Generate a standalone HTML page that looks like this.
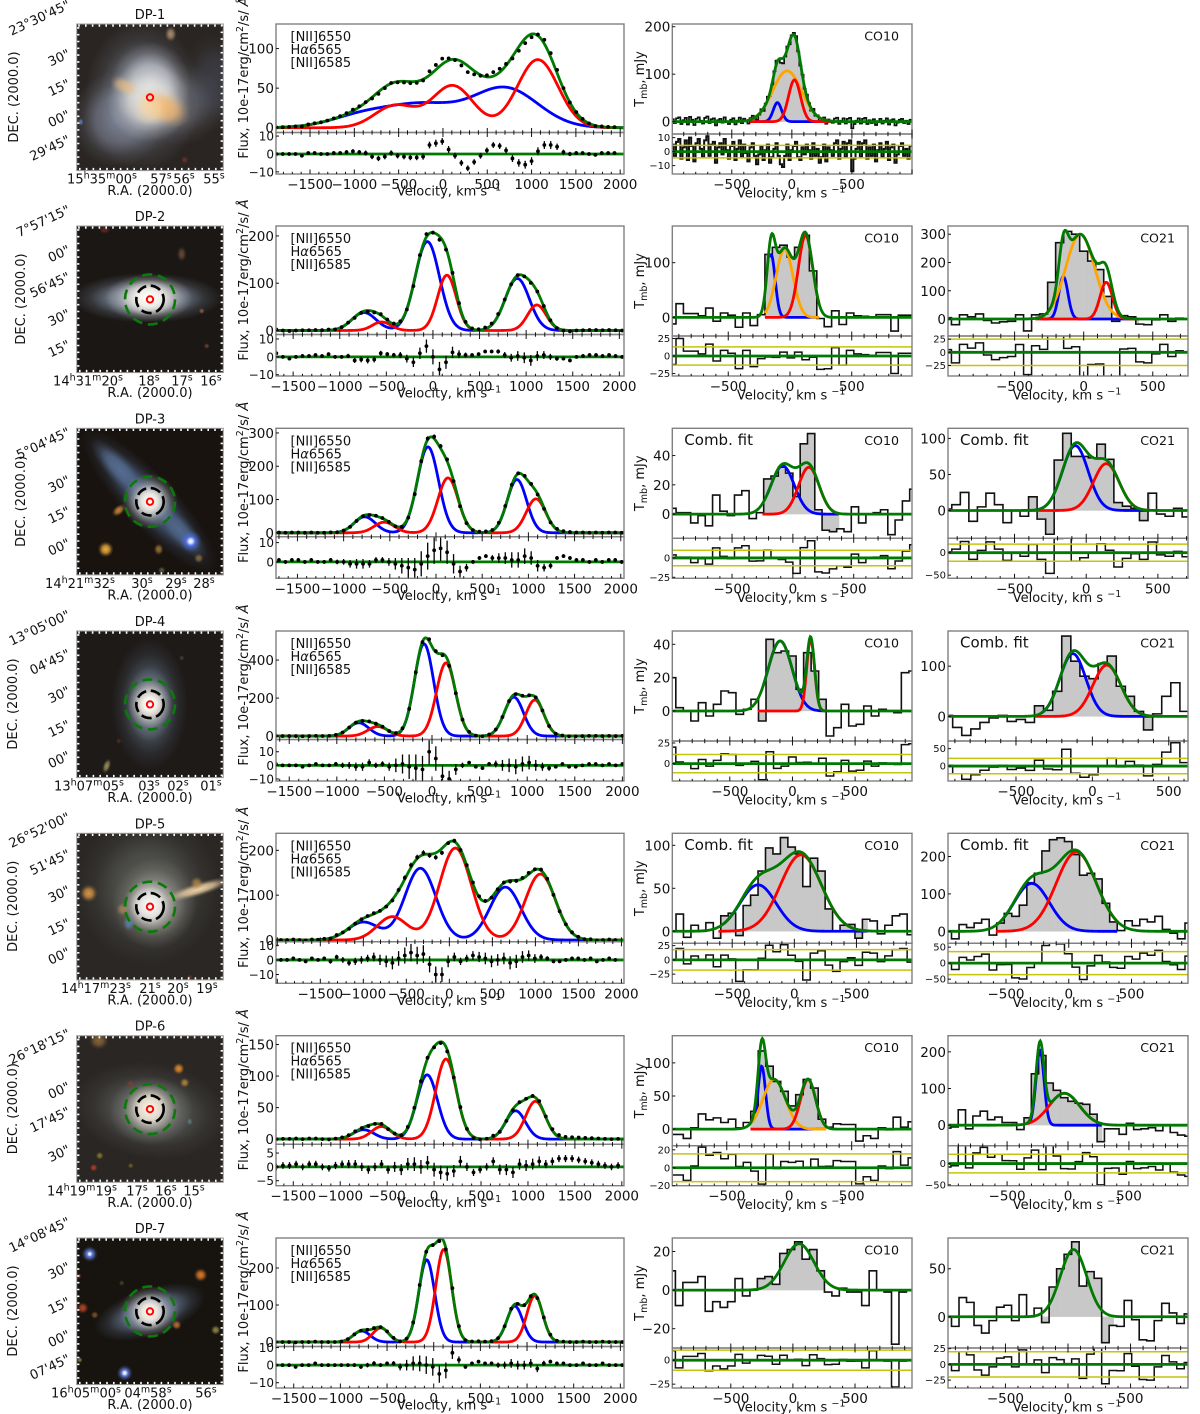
<!DOCTYPE html>
<html lang="en">
<head>
<meta charset="utf-8">
<title>DP galaxies: optical images, H-alpha and CO spectra</title>
<style>
html,body{margin:0;padding:0;background:#fff}
svg{display:block}
text{font-family:"DejaVu Sans","Liberation Sans",sans-serif;fill:#111}
</style>
</head>
<body>
<svg id="fig" xmlns="http://www.w3.org/2000/svg" width="1200" height="1414" viewBox="0 0 1200 1414"><defs id="defs"></defs></svg>
<script>
/* ---------- labels ---------- */
const galaxyNames = ["DP-1","DP-2","DP-3","DP-4","DP-5","DP-6","DP-7"];
const raLabels = [
 [["15^h35^m00^s",102],["57^s",161],["56^s",184],["55^s",214]],
 [["14^h31^m20^s",88],["18^s",149],["17^s",182],["16^s",211]],
 [["14^h21^m32^s",80],["30^s",142],["29^s",176],["28^s",204]],
 [["13^h07^m05^s",89],["03^s",149],["02^s",178],["01^s",211]],
 [["14^h17^m23^s",96],["21^s",150],["20^s",178],["19^s",207]],
 [["14^h19^m19^s",82],["17^s",137],["16^s",166],["15^s",194]],
 [["16^h05^m00^s",86],["04^m58^s",148],["56^s",206]]
];
const decLabels = [
 [["23°30'45\"",-16],["30\"",33],["15\"",63],["00\"",94],["29'45\"",119]],
 [["7°57'15\"",-13],["00\"",27],["56'45\"",54],["30\"",91],["15\"",122]],
 [["5°04'45\"",7],["30\"",55],["15\"",86],["00\"",118]],
 [["13°05'00\"",-13],["04'45\"",26],["30\"",63],["15\"",97],["00\"",128]],
 [["26°52'00\"",-13],["51'45\"",24],["30\"",60],["15\"",93],["00\"",122]],
 [["26°18'15\"",1],["00\"",54],["17'45\"",79],["30\"",117]],
 [["14°08'45\"",-13],["30\"",32],["15\"",67],["00\"",100],["07'45\"",124]]
];
const decLabelX = [13,20,20,12,12,12,12];

/* ---------- Halpha + [NII] spectra ---------- */
const specXLim = [[-1884,2043],[-1684,2050],[-1732,2035],[-1639,2017],[-2015,2030],[-1684,2023],[-1690,2039]];
const specYLim = [[-6,131],[-8.5,221],[-12,314],[-18,553],[-4,238],[-8,164],[-12,281]];
const specRLim = [[-11.2,12],[-10.7,12.5],[-8.5,13],[-11.5,19],[-16,12.4],[-6.8,8.2],[-13,10.6]];
const specYTicks = [[0,50,100],[0,100,200],[0,100,200,300],[0,200,400],[0,100,200],[0,50,100,150],[0,100,200]];
const specRTicks = [[-10,0,10],[-10,0,10],[0,10],[-10,0,10],[-10,0,10],[-5,0,5],[-10,0,10]];
const specXTicks = [-1500,-1000,-500,0,500,1000,1500,2000];
const specDotStart = [-1880,-1680,-1700,-1640,-2030,-1680,-1690];
const specDotStep = [72,70,70,70,72,70,70];

/* gaussian components [amplitude, centre km/s, sigma km/s] */
const blueComp = [
 [[17,-870,370],[26,-200,370],[50,700,370]],
 [[38,-740,130],[188,-60,130],[110,905,130]],
 [[48,-772,115],[258,-87,115],[160,876,105]],
 [[70,-770,105],[485,-84,100],[205,860,100]],
 [[40,-1000,180],[160,-337,180],[118,651,180]],
 [[15,-752,110],[102,-74,110],[45,868,105]],
 [[30,-772,90],[222,-75,85],[97,869,85]]
];
const redComp = [
 [[28,-540,230],[53,110,230],[86,1070,230]],
 [[18,-550,100],[117,150,100],[54,1115,100]],
 [[32,-560,110],[165,130,110],[102,1082,105]],
 [[50,-570,105],[385,147,100],[190,1080,95]],
 [[52,-663,175],[205,70,185],[147,1058,175]],
 [[20,-561,105],[127,127,110],[60,1080,105]],
 [[38,-568,85],[250,107,85],[125,1083,85]]
];
const specResidual = [
 [0,0,0,0,-1,.5,.5,0,0,.5,.5,1,1.5,1,.5,-1.5,-2.5,-1.5,.5,-1,-1.5,-2,-2,-1.5,5,6,7,2.5,-1,-5,-8,-4.5,-1,2,5,4.5,2,-2.5,-5,-6,-4,1.5,5,5,4,1,0,.5,.5,0,-.5,.5,.5,.5],
 [2,0,-1,0,.5,.5,1,.5,1.5,0,0,.5,-2,-1.5,-2,-1.5,2,1.5,1,1,-1,-3,2,6,0,-7,-3,2.5,1.5,1,1,1.5,3,3,3,1,-.5,.5,-.5,-2,.5,1,0,-1,-1,-2,0,.5,1,1,.5,1,.5,0],
 [1,0,1,1,0,1,0,0,1,0,0,-1,-1,-1,-1,1,1,0,-1,-2,-3,-4,-1,3,6,7,5,-1,-5,-3,0,2,3,2,2,2,1,1,3,2,-2,-3,-2,2,3,2,1,1,0,1,0,1,1,0],
 [1,0,0,0,-1,0,1,0,0,1,0,0,-1,-1,2,0,1,-1,0,1,-1,-2,-3,10,5,-8,-10,-3,0,2,-1,-2,1,1,0,0,-1,1,2,0,-1,-2,-1,1,-1,-1,0,1,1,0,1,0,1,0],
 [1,0,0,1,0,-1,1,0,1,-1,2,0,-2,-1,0,1,2,0,-1,-2,1,3,5,3,4,-3,-10,-10,-1,2,-1,1,3,2,1,-1,0,1,-2,-1,2,3,1,2,1,-1,-1,0,1,1,0,1,-1,0,1,0],
 [0,.5,.5,1,0,1,1,0,-.5,.5,1,1,1,0,-1,0,1,-1,0,-1,1,1,0,1.5,-1,-2,-2.5,-1.5,2,0,-2,-1,0,2,-1,-1,-2,1,.5,1,2,1,2,3,3,3,2.5,2,1.5,1,.5,0,.5,0],
 [0,0,0,-1,0,0,1,0,0,0,0,0,0,-1,0,1,0,1,1,-1,0,1,1,0,-1,-5,-3,7,3,-1,1,2,1,1,0,0,1,0,0,1,-2,1,2,1,1,0,0,1,0,0,1,0,0,0]
];
const specError = [
 [.9,.9,.9,.9,.9,.9,.9,.9,.9,1,1,1.1,1.2,1.2,1.4,1.4,1.5,1.5,1.5,1.5,1.5,1.5,1.5,1.7,1.9,2,1.9,1.9,1.7,1.7,1.6,1.6,1.6,1.6,1.6,1.7,1.8,2,2.1,2.2,2.2,2.2,2.2,2.2,1.8,1.4,1.2,1,.9,.9,.9,.9,.9,.9],
 [1,1,1,1,1,1,1,1,1,1,1,1.2,1.4,1.6,1.7,1.6,1.4,1.2,1.2,1.7,2.2,2.7,3.2,3.7,4.2,4.2,3.7,3.2,2.2,1.4,1,1,1,1,1.2,1.7,2.2,2.7,3,3,2.7,2.2,1.7,1.2,1,1,1,1,1,1,1,1,1,1],
 [1,1,1,1,1,1,1,1,1,1.2,1.5,2,2.5,2.5,2,1.5,1.5,2,3,4,5,6,6.5,7,7,6.5,6,5,3,2,1,1,1,1.5,2.5,3,4,4,4,3.5,3,2,1.5,1,1,1,1,1,1,1,1,1,1,1],
 [1.2,1.2,1.2,1.2,1.2,1.2,1.2,1.2,1.2,1.5,2,2.5,3,3,2.5,2,2,3,5,7,9,10,10,9.5,9,8,6,4,2,1.2,1.2,1.2,1.5,2.5,4,5,5.5,5.5,5,4,3,2,1.2,1.2,1.2,1.2,1.2,1.2,1.2,1.2,1.2,1.2,1.2,1.2],
 [1.2,1.2,1.2,1.2,1.2,1.2,1.2,1.2,1.2,1.5,1.5,2,2,2.5,2.5,2.5,3,3.5,4,4.5,5,5.5,6,6,6,5.5,5.5,5,4,3,2.5,2.5,3,3.5,4,4,4,4,4.5,4.5,4,3.5,3,2,1.5,1.2,1.2,1.2,1.2,1.2,1.2,1.2,1.2,1.2,1.2,1.2],
 [1.2,1.2,1.2,1.2,1.2,1.2,1.2,1.2,1.2,1.3,1.3,1.5,1.5,1.5,1.5,1.5,1.5,1.5,1.8,2,2.2,2.5,2.5,2.5,2.5,2.5,2.5,2.2,2,1.5,1.3,1.3,1.3,1.5,1.8,2,2,2,2,2,1.8,1.5,1.4,1.3,1.3,1.3,1.2,1.2,1.2,1.2,1.2,1.2,1.2,1.2],
 [1,1,1,1,1,1,1,1,1,1,1,1,1.1,1.1,1.3,1.3,1.1,1.1,1.3,2,3,4,4.5,5,5,5,4.5,3.5,2,1.1,1,1,1,1.1,1.5,2,2.5,2.5,2.5,2.5,2,1.5,1.1,1,1,1,1,1,1,1,1,1,1,1]
];

/* ---------- CO spectra: measured flux per channel ---------- */
const dp1Co10Noise = [5,-3,7,9,-5,3,8,-6,10,4,-7,6,9,2,-4,8,11,-3,5,7,-8,3,6,-2,9,1,-5,4,7,-6,2,8,-4,5,-1,-7,3,6,-3,-9,-2,4,-6,1,5,-8,-4,2,6,-3,-9,-11,-3,5,-6,1,4,7,-4,-6,3,-2,5,1,-5,6,-3,2,-8,-4,5,-7,3,1,-3,6,8,-5,2,7,-4,6,8,-14,-5,2,7,-4,6,8,-5,3,-3,5,-7,1,6,-4,2,7,-6,3,5,-8,-2,4,6,-3,2,-5,4];
const dp2Co10Values = [-12,25,7,7,3,17,-7,8,4,-18,8,-15,5,115,128,132,110,128,150,85,-2,-17,12,-13,8,3,2,1,5,5,-25,4,4];
const dp2Co21Values = [5,-20,15,8,18,-5,-14,-10,-8,15,-42,15,18,130,270,310,300,240,205,175,80,-8,12,8,-18,-20,-3,15,-8,3];
const dp3Co10Values = [4,1,1,-6,-1,-8,13,2,-1,13,16,-3,1,24,26,32,28,12,48,55,3,-11,-12,-10,-12,5,-6,0,1,3,-14,-4,9,17];
const dp3Co21Values = [2,8,25,-15,5,24,8,-17,0,-8,19,-12,-33,70,107,75,75,73,92,71,11,6,3,-14,24,-5,-8,3,-9];
const dp4Co10Values = [20,2,0,-6,5,-3,4,12,11,-2,1,7,-6,43,35,36,33,13,35,24,7,-15,-10,4,-9,-8,3,-3,1,0,-1,23,24];
const dp4Co21Values = [2,-22,-38,-25,-12,-3,2,-10,-6,-12,21,12,50,160,110,80,75,105,120,60,40,10,-27,5,40,67,10];
const dp5Co10Values = [0,20,-7,7,0,10,-8,18,21,-5,30,42,70,97,90,109,98,90,52,85,70,26,0,7,8,-8,14,12,-3,7,18,20,-4];
const dp5Co21Values = [0,-20,18,10,22,32,-10,22,48,40,70,130,155,215,245,250,240,205,150,155,140,75,25,2,28,15,32,25,40,5,-5,-20,22];
const dp6Co10Values = [-8,-8,-14,2,23,14,17,10,15,2,10,27,118,95,72,57,35,52,75,62,15,3,8,7,7,-18,-10,-14,2,-1,18,3,11];
const dp6Co21Values = [-8,-5,42,-10,25,38,15,22,7,7,-12,20,140,190,115,95,75,65,60,57,30,-45,-10,-10,-25,5,-12,-10,-7,-15,0,-20,-27,-30];
const dp7Co10Values = [10,-8,4,4,7,-11,-6,-9,-6,6,-3,0,6,7,3,19,21,25,16,21,10,-1,-3,1,-1,-1,-8,10,0,-1,-28,-1,0];
const dp7Co21Values = [0,-10,20,15,-9,-17,-4,10,12,-4,23,0,9,-6,31,50,65,78,32,47,40,-27,-9,-10,17,-3,-24,-25,-4,14,4,-7,3];

const coPanels = [
 {row:0,col:0,line:"CO10",comb:false,xLim:[-995,1000],yLim:[-26,205.7],rLim:[-16,12.6],yTicks:[0,100,200],rTicks:[-10,0,10],noise:dp1Co10Noise,start:-1000,width:18,fill:[-350,330],sigmaLine:4.5,blue:[[40,-120,35]],orange:[[107,-40,120]],red:[[88,22,50]]},
 {row:1,col:0,line:"CO10",comb:false,xLim:[-953,988],yLim:[-34,167],rLim:[-28.5,28.6],yTicks:[0,100],rTicks:[-25,0,25],values:dp2Co10Values,start:-983,width:60,fill:[-203,237],sigmaLine:13,blue:[[115,-153,33]],orange:[[125,-44,68]],red:[[150,126,58]]},
 {row:1,col:1,line:"CO21",comb:false,xLim:[-982,755],yLim:[-60,329],rLim:[-45,31],yTicks:[0,100,200,300],rTicks:[-25,0,25],values:dp2Co21Values,start:-1015,width:58,fill:[-350,400],sigmaLine:25,blue:[[150,-147,33]],orange:[[300,-25,105]],red:[[130,163,45]]},
 {row:2,col:0,line:"CO10",comb:true,xLim:[-991,979],yLim:[-16.5,58.6],rLim:[-26.3,25.4],yTicks:[0,20,40],rTicks:[-25,0],values:dp3Co10Values,start:-1020,width:60,fill:[-250,380],sigmaLine:10,blue:[[33,-84,95]],orange:[],red:[[32,131,85]]},
 {row:2,col:1,line:"CO21",comb:true,xLim:[-964,710],yLim:[-38.6,114],rLim:[-57,32],yTicks:[0,50,100],rTicks:[-50,0],values:dp3Co21Values,start:-997,width:59.5,fill:[-400,445],sigmaLine:19,blue:[[90,-76,90]],orange:[],red:[[65,140,90]]},
 {row:3,col:0,line:"CO10",comb:false,xLim:[-959,954],yLim:[-18,48],rLim:[-21,27.4],yTicks:[0,20,40],rTicks:[0,25],values:dp4Co10Values,start:-991,width:60,fill:[-275,265],sigmaLine:11,blue:[[42,-98,95]],orange:[],red:[[43,145,31]]},
 {row:3,col:1,line:"CO21",comb:true,xLim:[-945,626],yLim:[-49,170],rLim:[-43,72],yTicks:[0,100],rTicks:[0,50],values:dp4Co21Values,start:-974,width:59.5,fill:[-375,410],sigmaLine:22,blue:[[125,-128,85]],orange:[],red:[[102,95,92]]},
 {row:4,col:0,line:"CO10",comb:true,xLim:[-982,947],yLim:[-14,114],rLim:[-41,29],yTicks:[0,50,100],rTicks:[-25,0,25],values:dp5Co10Values,start:-1012,width:60,fill:[-610,590],sigmaLine:18,blue:[[54,-292,145]],orange:[],red:[[89,53,165]]},
 {row:4,col:1,line:"CO21",comb:true,xLim:[-962,950],yLim:[-32,262],rLim:[-63,62],yTicks:[0,100,200],rTicks:[-50,0,50],values:dp5Co21Values,start:-994,width:60,fill:[-580,390],sigmaLine:36,blue:[[128,-295,140]],orange:[],red:[[212,60,160]]},
 {row:5,col:0,line:"CO10",comb:false,xLim:[-936,983],yLim:[-25,141],rLim:[-20,24.6],yTicks:[0,50,100],rTicks:[-20,0,20],values:dp6Co10Values,start:-968,width:60,fill:[-310,300],sigmaLine:15.5,blue:[[95,-220,30]],orange:[[75,-120,90]],red:[[75,151,60]]},
 {row:5,col:1,line:"CO21",comb:false,xLim:[-985,985],yLim:[-56,244],rLim:[-52,42],yTicks:[0,100,200],rTicks:[-50,0],values:dp6Co21Values,start:-1021,width:60,fill:[-360,280],sigmaLine:22,blue:[[205,-230,33]],orange:[],red:[[87,-30,125]]},
 {row:6,col:0,line:"CO10",comb:false,xLim:[-971,959],yLim:[-30,27],rLim:[-29,12.7],yTicks:[-20,0,20],rTicks:[-25,0],values:dp7Co10Values,start:-1006,width:60,fill:[-290,260],sigmaLine:10.5,blue:[],orange:[],red:[],green:[[24,50,120]]},
 {row:6,col:1,line:"CO21",comb:false,xLim:[-959,959],yLim:[-32.5,82],rLim:[-37.5,26],yTicks:[0,50],rTicks:[-25,0,25],values:dp7Co21Values,start:-991,width:60,fill:[-210,365],sigmaLine:20,blue:[],orange:[],red:[],green:[[70,44,105]]}
];
const coXTicks = [-500,0,500];

/* ---------- galaxy cutouts: background colour and soft light blobs ---------- */
const galaxyBackgrounds = ["#2a2522","#1b1714","#18130f","#1e1a18","#2a2724","#2a2623","#17130f"];
const galaxyBlobs = [
 [[66,72,58,76,0,"#7f8799",.8],[40,96,46,48,0,"#8c94aa",.7],[100,80,48,42,0,"#8b8f9c",.55],[138,58,34,50,0,"#5e6a84",.35],[74,60,40,42,0,"#d0d4dc",.85],[72,78,42,40,0,"#f4f1e8",.8],[88,84,28,18,25,"#f2b368",.9],[48,62,16,9,25,"#f0bd7e",.7],[74,84,18,18,0,"#f7d6a4",.8],[94,10,6,8,0,"#c7a37f",.8],[4,98,3,4,0,"#5f7fc0",.9],[108,136,4,4,0,"#7a3328",.8],[21,148,4,4,0,"#6a5545",.6]],
 [[70,72,76,25,0,"#8fa2bb",.95],[72,72,44,24,0,"#e4ddd2",.95],[72,72,26,18,0,"#fffdf7",1],[28,4,6,4,0,"#7a2a20",.8],[105,28,5,8,0,"#6e4d38",.9],[130,120,3,3,0,"#8a4a30",.8],[125,85,3,3,0,"#c0724a",.7]],
 [[44,42,42,13,47,"#6a86b2",.85],[103,102,38,13,47,"#5e7aa0",.85],[73,73,96,26,47,"#4f678c",.8],[73,73,28,28,0,"#d3d6d4",.9],[73,73,17,17,0,"#fffaf0",1],[114,113,11,11,0,"#4c70ff",1],[114,113,5,5,0,"#ffffff",1],[29,121,8,8,0,"#f0b040",1],[42,82,8,5,-40,"#d9903f",.9],[82,121,5,6,0,"#a57a3c",.9],[122,130,5,5,0,"#9b7a4c",.8],[85,142,4,4,0,"#6b6a50",.8]],
 [[73,73,38,66,0,"#5f7083",.85],[73,73,24,38,0,"#98a0a8",.85],[73,73,22,24,0,"#f7eee0",1],[73,73,12,12,0,"#ffffff",1],[30,135,4,8,20,"#a89960",.9],[42,110,3,3,0,"#6b3325",.7],[105,27,3,3,0,"#3e5448",.7]],
 [[72,56,72,76,0,"#5f615c",.85],[78,70,42,46,0,"#a5a39c",.85],[73,72,26,26,0,"#ffffff",1],[122,56,36,7,-17,"#f1d3a7",1],[12,60,9,9,0,"#e09a48",.95],[120,50,7,7,0,"#b68c4c",.85],[46,76,7,7,0,"#cf9a5a",.6],[52,90,6,8,0,"#5f90c8",.7],[113,144,3,3,0,"#70402c",.8]],
 [[74,75,78,48,8,"#606563",.85],[74,75,42,34,0,"#a09f98",.85],[73,73,25,25,0,"#fff6e6",1],[22,5,10,9,0,"#8f6a3a",.9],[102,33,6,6,0,"#e08c2c",1],[108,47,5,5,0,"#c08a3c",.9],[17,132,4,4,0,"#c0402c",.9],[23,120,4,4,0,"#a08a2c",.8],[54,48,4,4,0,"#8a3d28",.8],[54,130,3,3,0,"#8a7a30",.7],[113,86,3,4,0,"#5f8f90",.7]],
 [[73,74,58,24,-18,"#6f86a6",.95],[73,74,30,26,0,"#c5c4c0",.9],[73,74,18,18,0,"#fff8ee",1],[13,16,8,8,0,"#6a8cff",1],[13,16,3,3,0,"#ffffff",1],[48,135,8,8,0,"#6a8cff",1],[48,135,3.5,3.5,0,"#ffffff",1],[124,37,7,7,0,"#e07a28",1],[6,70,6,6,0,"#c84a28",.9],[100,87,5,5,0,"#c87838",.9],[139,92,5,5,0,"#a09050",.9],[18,77,4,4,0,"#a06030",.8],[45,45,3,3,0,"#506030",.7],[2,38,3,3,0,"#a03828",.8],[3,122,3,3,0,"#a09850",.8]]
];
const galaxyHasApertures = [false,true,true,true,true,true,true];

/* ---------- layout ---------- */
const rowTops = [24,226,428.3,631,833.3,1035.7,1238];
const fig = document.getElementById('fig');
const defs = document.getElementById('defs');
const NS = 'http://www.w3.org/2000/svg';

function el(tag, attrs, name, parent) {
  const e = document.createElementNS(NS, tag);
  for (const k in attrs) e.setAttribute(k, attrs[k]);
  
  
  (parent || fig).appendChild(e);
  return e;
}
function scale(d0, d1, r0, r1) { return v => r0 + (v - d0) / (d1 - d0) * (r1 - r0); }
function gaussSum(list, v) {
  let s = 0;
  for (const g of list) s += g[0] * Math.exp(-((v - g[1]) * (v - g[1])) / (2 * g[2] * g[2]));
  return s;
}
function fmt(n) { return String(n).replace('-', '\u2212'); }
function addMarkup(t, str) {
  /* ^x = one superscript letter */
  const parts = str.split(/(\^[a-z])/);
  let up = false;
  for (const p of parts) {
    if (!p) continue;
    const ts = document.createElementNS(NS, 'tspan');
    if (p[0] === '^') {
      ts.textContent = p.slice(1);
      ts.setAttribute('dy', '-5');
      ts.setAttribute('font-size', '9.5');
      up = true;
    } else {
      ts.textContent = p;
      if (up) ts.setAttribute('dy', '5');
      up = false;
    }
    t.appendChild(ts);
  }
}
function label(x, y, str, size, anchor, name, parent, rot) {
  const attrs = {x: x, y: y, 'font-size': size, 'text-anchor': anchor || 'start'};
  if (rot) attrs.transform = 'rotate(' + rot + ' ' + x + ' ' + y + ')';
  const t = el('text', attrs, name, parent);
  addMarkup(t, str);
  return t;
}
function clip(id, x, y, w, h) {
  const c = document.createElementNS(NS, 'clipPath');
  c.setAttribute('id', id);
  const r = document.createElementNS(NS, 'rect');
  r.setAttribute('x', x); r.setAttribute('y', y);
  r.setAttribute('width', w); r.setAttribute('height', h);
  c.appendChild(r);
  defs.appendChild(c);
}
function ensureGradient(color) {
  const id = 'glow' + color.slice(1);
  if (document.getElementById(id)) return id;
  const g = document.createElementNS(NS, 'radialGradient');
  g.setAttribute('id', id);
  [[0, 1], [.45, .72], [.75, .22], [1, 0]].forEach(s => {
    const st = document.createElementNS(NS, 'stop');
    st.setAttribute('offset', s[0]);
    st.setAttribute('stop-color', color);
    st.setAttribute('stop-opacity', s[1]);
    g.appendChild(st);
  });
  defs.appendChild(g);
  return id;
}
function curvePath(x0, x1, xInv, yFn, list) {
  let d = '';
  for (let px = x0; px <= x1 + .01; px += 0.75) {
    d += (d ? 'L' : 'M') + px.toFixed(2) + ' ' + yFn(gaussSum(list, xInv(px))).toFixed(2);
  }
  return d;
}
function spine(x0, y0, x1, y1, name, parent) {
  return el('rect', {x: x0, y: y0, width: x1 - x0, height: y1 - y0, fill: 'none', stroke: '#808080', 'stroke-width': 1.4}, name, parent);
}
function xTickMarks(g, xFn, x0, x1, yTop, yBottom, dom) {
  const lo = Math.ceil(dom[0] / 100) * 100;
  for (let v = lo; v <= dom[1]; v += 100) {
    const len = v % 500 === 0 ? 4.5 : 2.2;
    const x = xFn(v);
    el('line', {x1: x, x2: x, y1: yTop - len, y2: yTop + len, stroke: '#111', 'stroke-width': 1}, 'x-tick-split', g);
    el('line', {x1: x, x2: x, y1: yBottom, y2: yBottom - len, stroke: '#111', 'stroke-width': 1}, 'x-tick-bottom', g);
  }
}

/* ---------- galaxy panels ---------- */
rowTops.forEach((top, i) => {
  const g = el('g', {}, 'galaxy-image-panel-' + (i + 1));
  const X0 = 76.7, S = 146.6;
  clip('imgclip' + i, X0, top, S, S);
  const body = el('g', {'clip-path': 'url(#imgclip' + i + ')'}, 'galaxy-cutout', g);
  el('rect', {x: X0, y: top, width: S, height: S, fill: galaxyBackgrounds[i]}, 'sky-background', body);
  galaxyBlobs[i].forEach(b => {
    const id = ensureGradient(b[5]);
    const cx = X0 + b[0], cy = top + b[1];
    el('ellipse', {cx: cx, cy: cy, rx: b[2], ry: b[3], fill: 'url(#' + id + ')', opacity: b[6], transform: 'rotate(' + b[4] + ' ' + cx + ' ' + cy + ')'}, 'galaxy-light-blob', body);
  });
  el('rect', {x: X0 + 1.5, y: top + 1.5, width: S - 3, height: S - 3, fill: 'none', stroke: '#fff', 'stroke-width': 2.4, 'stroke-dasharray': '1.6 5.2'}, 'coordinate-ticks', g);
  el('rect', {x: X0, y: top, width: S, height: S, fill: 'none', stroke: '#9a9a9a', 'stroke-width': 1}, 'image-frame', g);
  const cx = 150, cy = top + 73.4;
  if (galaxyHasApertures[i]) {
    el('circle', {cx: cx, cy: cy, r: 25, fill: 'none', stroke: '#0b7a0b', 'stroke-width': 2.6, 'stroke-dasharray': '10 5.7'}, 'co21-beam-circle', g);
    el('circle', {cx: cx, cy: cy, r: 13.7, fill: 'none', stroke: '#000', 'stroke-width': 2.6, 'stroke-dasharray': '10.5 4.6', transform: 'rotate(20 ' + cx + ' ' + cy + ')'}, 'co10-beam-circle', g);
  }
  el('circle', {cx: cx, cy: cy, r: 3.2, fill: 'none', stroke: '#f00', 'stroke-width': 1.9}, 'fiber-circle', g);
  label(150, top - 5, galaxyNames[i], 13, 'middle', 'galaxy-title', g);
  raLabels[i].forEach(r => label(r[1], top + S + 13, r[0], 13, 'middle', 'ra-tick-label', g));
  label(150, top + S + 24.5, 'R.A. (2000.0)', 13, 'middle', 'ra-axis-title', g);
  decLabels[i].forEach(d => label(71, top + d[1], d[0], 13, 'end', 'dec-tick-label', g, -25));
  label(decLabelX[i] + 5, top + 73, 'DEC. (2000.0)', 13, 'middle', 'dec-axis-title', g, -90);
});

/* ---------- Halpha spectra ---------- */
rowTops.forEach((top, i) => {
  const g = el('g', {}, 'halpha-spectrum-panel-' + (i + 1));
  const x0 = 276, x1 = 624, split = top + 108.5, bottom = top + 150;
  const xFn = scale(specXLim[i][0], specXLim[i][1], x0, x1);
  const xInv = scale(x0, x1, specXLim[i][0], specXLim[i][1]);
  const yFn = scale(specYLim[i][0], specYLim[i][1], split, top);
  const rFn = scale(specRLim[i][0], specRLim[i][1], bottom, split);
  clip('sm' + i, x0, top, x1 - x0, split - top);
  clip('sr' + i, x0, split, x1 - x0, bottom - split);
  const all = blueComp[i].concat(redComp[i]);
  const m = el('g', {'clip-path': 'url(#sm' + i + ')'}, 'flux-plot-area', g);
  el('path', {d: curvePath(x0, x1, xInv, yFn, blueComp[i]), fill: 'none', stroke: '#0000ff', 'stroke-width': 2.8}, 'blue-component', m);
  el('path', {d: curvePath(x0, x1, xInv, yFn, redComp[i]), fill: 'none', stroke: '#ff0000', 'stroke-width': 2.8}, 'red-component', m);
  el('path', {d: curvePath(x0, x1, xInv, yFn, all), fill: 'none', stroke: '#007a00', 'stroke-width': 2.8}, 'total-fit', m);
  const r = el('g', {'clip-path': 'url(#sr' + i + ')'}, 'residual-plot-area', g);
  el('line', {x1: x0, x2: x1, y1: rFn(0), y2: rFn(0), stroke: '#007a00', 'stroke-width': 2.8}, 'residual-zero-line', r);
  specResidual[i].forEach((res, k) => {
    const v = specDotStart[i] + k * specDotStep[i];
    const e = specError[i][k] || 1;
    const x = xFn(v);
    const model = gaussSum(all, v);
    el('circle', {cx: x, cy: yFn(model + res), r: 1.9, fill: '#000'}, 'flux-point', m);
    el('line', {x1: x, x2: x, y1: yFn(model + res - e), y2: yFn(model + res + e), stroke: '#000', 'stroke-width': 1}, 'flux-error-bar', m);
    el('line', {x1: x, x2: x, y1: rFn(res - e), y2: rFn(res + e), stroke: '#000', 'stroke-width': 1.3}, 'residual-error-bar', r);
    el('circle', {cx: x, cy: rFn(res), r: 1.9, fill: '#000'}, 'residual-point', r);
  });
  spine(x0, top, x1, split, 'flux-axes-frame', g);
  spine(x0, split, x1, bottom, 'residual-axes-frame', g);
  xTickMarks(g, xFn, x0, x1, split, bottom, specXLim[i]);
  specYTicks[i].forEach(t => {
    el('line', {x1: x0, x2: x0 + 3, y1: yFn(t), y2: yFn(t), stroke: '#111', 'stroke-width': 1}, 'y-tick', g);
    label(x0 - 2, yFn(t) + 5, fmt(t), 13.5, 'end', 'y-tick-label', g);
  });
  specRTicks[i].forEach(t => {
    el('line', {x1: x0, x2: x0 + 3, y1: rFn(t), y2: rFn(t), stroke: '#111', 'stroke-width': 1}, 'residual-y-tick', g);
    label(x0 - 2, rFn(t) + 4.5, fmt(t), 12, 'end', 'residual-y-tick-label', g);
  });
  specXTicks.forEach(t => {
    if (t >= specXLim[i][0] && t <= specXLim[i][1]) label(xFn(t), bottom + 15, fmt(t), 13.5, 'middle', 'x-tick-label', g);
  });
  const xl = el('text', {x: 449, y: bottom + 21.5, 'font-size': 13, 'text-anchor': 'middle'}, 'x-axis-title', g);
  xl.innerHTML = 'Velocity, km s<tspan dy="-5" font-size="9.5">\u22121</tspan>';
  const yl = el('text', {x: 248, y: top + 54, 'font-size': 13, 'text-anchor': 'middle', transform: 'rotate(-90 248 ' + (top + 54) + ')'}, 'flux-axis-title', g);
  yl.innerHTML = 'Flux, 10e-17erg/cm<tspan dy="-5" font-size="9.5">2</tspan><tspan dy="5">/s/ </tspan><tspan font-style="italic">Å</tspan>';
  label(290.5, top + 17, '[NII]6550', 13, 'start', 'nii-6550-label', g);
  const ha = el('text', {x: 290.5, y: top + 30, 'font-size': 13}, 'halpha-6565-label', g);
  ha.innerHTML = 'H<tspan font-style="italic">α</tspan>6565';
  label(290.5, top + 43, '[NII]6585', 13, 'start', 'nii-6585-label', g);
});

/* ---------- CO spectra ---------- */
const coColumnX = [[672.3, 912], [948, 1188]];
coPanels.forEach((p, idx) => {
  const top = rowTops[p.row];
  const g = el('g', {}, 'co-spectrum-panel-' + p.line.toLowerCase() + '-dp' + (p.row + 1));
  const x0 = coColumnX[p.col][0], x1 = coColumnX[p.col][1], split = top + 110, bottom = top + 150;
  const xFn = scale(p.xLim[0], p.xLim[1], x0, x1);
  const xInv = scale(x0, x1, p.xLim[0], p.xLim[1]);
  const yFn = scale(p.yLim[0], p.yLim[1], split, top);
  const rFn = scale(p.rLim[0], p.rLim[1], bottom, split);
  clip('cm' + idx, x0, top, x1 - x0, split - top);
  clip('cr' + idx, x0, split, x1 - x0, bottom - split);
  const all = (p.green || []).concat(p.blue, p.orange, p.red);
  const count = p.values ? p.values.length : p.noise.length;
  const valueAt = k => {
    if (p.values) return p.values[k];
    return gaussSum(all, p.start + (k + .5) * p.width) + p.noise[k];
  };
  const residAt = k => valueAt(k) - gaussSum(all, p.start + (k + .5) * p.width);
  const m = el('g', {'clip-path': 'url(#cm' + idx + ')'}, 'co-flux-plot-area', g);
  let fillD = '', stepD = '', resD = '';
  const y0px = yFn(0);
  for (let k = 0; k < count; k++) {
    const a = p.start + k * p.width, b = a + p.width;
    const xa = xFn(a).toFixed(2), xb = xFn(b).toFixed(2);
    const yv = yFn(valueAt(k)).toFixed(2), yr = rFn(residAt(k)).toFixed(2);
    stepD += (k ? 'L' : 'M') + xa + ' ' + yv + 'L' + xb + ' ' + yv;
    resD += (k ? 'L' : 'M') + xa + ' ' + yr + 'L' + xb + ' ' + yr;
    if (a >= p.fill[0] - p.width && b <= p.fill[1] + p.width) {
      const fa = Math.max(a, p.fill[0]), fb = Math.min(b, p.fill[1]);
      if (fb > fa) fillD += 'M' + xFn(fa).toFixed(2) + ' ' + y0px.toFixed(2) + 'L' + xFn(fa).toFixed(2) + ' ' + yv + 'L' + xFn(fb).toFixed(2) + ' ' + yv + 'L' + xFn(fb).toFixed(2) + ' ' + y0px.toFixed(2) + 'Z';
    }
  }
  el('path', {d: fillD, fill: '#c8c8c8', stroke: '#c8c8c8', 'stroke-width': .4}, 'line-flux-fill', m);
  el('path', {d: stepD, fill: 'none', stroke: '#111', 'stroke-width': p.noise ? 1.7 : 1.6}, 'co-spectrum-step-line', m);
  if (p.blue.length) el('path', {d: curvePath(xFn(p.fill[0] + 40), xFn(p.fill[1]), xInv, yFn, p.blue), fill: 'none', stroke: '#0000ff', 'stroke-width': 2.8}, 'blue-component', m);
  if (p.orange.length) el('path', {d: curvePath(xFn(p.fill[0]), xFn(p.fill[1]), xInv, yFn, p.orange), fill: 'none', stroke: '#ffa500', 'stroke-width': 2.8}, 'orange-component', m);
  if (p.red.length) el('path', {d: curvePath(xFn(p.fill[0]), xFn(p.fill[1]), xInv, yFn, p.red), fill: 'none', stroke: '#ff0000', 'stroke-width': 2.8}, 'red-component', m);
  el('path', {d: curvePath(x0, x1, xInv, yFn, all), fill: 'none', stroke: '#007a00', 'stroke-width': 2.8}, 'total-fit', m);
  const r = el('g', {'clip-path': 'url(#cr' + idx + ')'}, 'co-residual-plot-area', g);
  el('path', {d: resD, fill: 'none', stroke: '#111', 'stroke-width': p.noise ? 2 : 1.5}, 'co-residual-step-line', r);
  [p.sigmaLine, -p.sigmaLine].forEach(s => {
    el('line', {x1: x0, x2: x1, y1: rFn(s), y2: rFn(s), stroke: '#c4c40c', 'stroke-width': 1.5}, 'noise-level-line', r);
  });
  el('line', {x1: x0, x2: x1, y1: rFn(0), y2: rFn(0), stroke: '#007a00', 'stroke-width': 2.8}, 'residual-zero-line', r);
  spine(x0, top, x1, split, 'co-flux-axes-frame', g);
  spine(x0, split, x1, bottom, 'co-residual-axes-frame', g);
  xTickMarks(g, xFn, x0, x1, split, bottom, p.xLim);
  p.yTicks.forEach(t => {
    el('line', {x1: x0, x2: x0 + 3, y1: yFn(t), y2: yFn(t), stroke: '#111', 'stroke-width': 1}, 'y-tick', g);
    label(x0 - 2, yFn(t) + 5, fmt(t), 13.5, 'end', 'y-tick-label', g);
  });
  p.rTicks.forEach(t => {
    el('line', {x1: x0, x2: x0 + 3, y1: rFn(t), y2: rFn(t), stroke: '#111', 'stroke-width': 1}, 'residual-y-tick', g);
    label(x0 - 2, rFn(t) + 3.5, fmt(t), 10, 'end', 'residual-y-tick-label', g);
  });
  coXTicks.forEach(t => label(xFn(t), bottom + 15, fmt(t), 13.5, 'middle', 'x-tick-label', g));
  const xl = el('text', {x: (x0 + x1) / 2 - 1, y: bottom + 23.5, 'font-size': 13, 'text-anchor': 'middle'}, 'x-axis-title', g);
  xl.innerHTML = 'Velocity, km s <tspan dy="-5" font-size="9.5">\u22121</tspan>';
  label(x1 - 13, top + 16.5, p.line, 12.6, 'end', 'co-line-label', g);
  if (p.comb) label(x0 + 12, top + 16.5, 'Comb. fit', 15, 'start', 'combined-fit-label', g);
  if (p.col === 0) {
    const cy = top + 55;
    const yl = el('text', {x: 644, y: cy, 'font-size': 13, 'text-anchor': 'middle', transform: 'rotate(-90 644 ' + cy + ')'}, 'tmb-axis-title', g);
    yl.innerHTML = 'T<tspan dy="3" font-size="9.5">mb</tspan><tspan dy="-3">, mJy</tspan>';
  }
});
</script>
</body>
</html>
